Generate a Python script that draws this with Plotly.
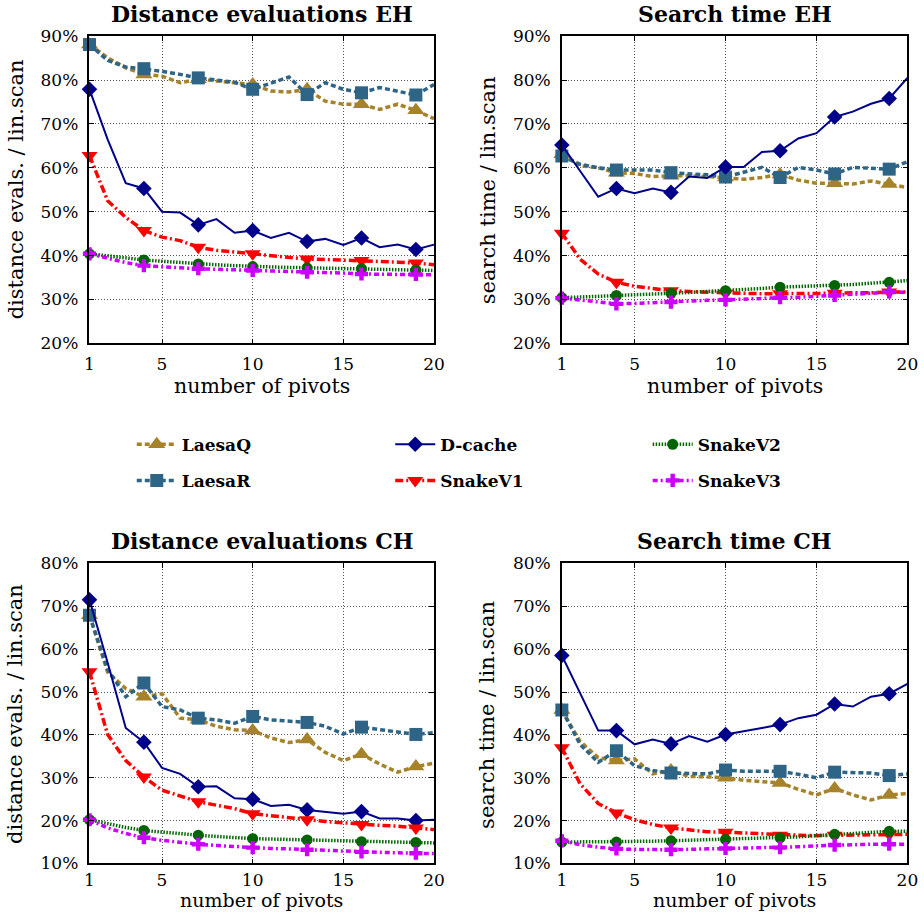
import plotly.graph_objects as go

W, H = 924, 923

pivots = list(range(1, 21))
series_names = ["LaesaQ", "LaesaR", "D-cache", "SnakeV1", "SnakeV2", "SnakeV3"]

# ---- Distance evaluations EH (%)
laesaq_eh_dist = [88.1, 85.1, 82.8, 81.3, 80.9, 79.4, 80.2, 79.9, 79.4, 79.0, 77.5, 77.3, 77.9, 75.2, 74.5, 74.5, 73.3, 74.5, 73.1, 71.2]
laesar_eh_dist = [88.1, 84.5, 83.0, 82.6, 82.0, 81.3, 80.5, 80.0, 79.5, 77.9, 79.4, 80.7, 76.7, 79.4, 77.9, 77.1, 78.3, 77.5, 76.6, 79.0]
dcache_eh_dist = [77.9, 66.5, 56.5, 55.3, 50.0, 49.8, 47.0, 48.3, 45.2, 45.7, 44.0, 45.2, 43.2, 43.8, 42.4, 44.0, 41.9, 42.5, 41.4, 42.5]
snakev1_eh_dist = [62.8, 52.5, 48.7, 45.7, 44.2, 43.4, 41.9, 41.2, 40.8, 40.4, 40.0, 39.7, 39.2, 39.1, 39.0, 38.9, 38.7, 38.5, 38.3, 37.9]
snakev2_eh_dist = [40.4, 39.9, 39.4, 39.0, 38.7, 38.4, 38.1, 37.9, 37.7, 37.5, 37.4, 37.3, 37.2, 37.1, 37.0, 37.0, 36.9, 36.8, 36.7, 36.6]
snakev3_eh_dist = [40.4, 39.3, 38.4, 37.7, 37.4, 37.2, 37.0, 36.9, 36.7, 36.6, 36.5, 36.4, 36.2, 36.1, 36.0, 35.8, 35.8, 35.7, 35.7, 35.6]

# ---- Search time EH (%)
laesaq_eh_time = [63.1, 60.5, 60.0, 58.9, 58.7, 58.0, 58.2, 58.2, 58.0, 57.8, 57.4, 57.8, 58.5, 57.2, 56.5, 56.5, 56.3, 57.0, 56.3, 55.5]
laesar_eh_time = [62.7, 60.8, 60.0, 59.5, 59.5, 59.5, 58.9, 58.7, 58.4, 57.9, 58.9, 60.1, 57.8, 60.1, 59.5, 58.6, 60.1, 59.8, 59.7, 61.4]
dcache_eh_time = [65.2, 59.3, 53.4, 55.3, 54.2, 55.3, 54.4, 58.0, 57.7, 60.2, 60.2, 63.6, 63.9, 66.7, 67.9, 71.6, 72.8, 74.6, 75.8, 80.5]
snakev1_eh_time = [45.1, 39.2, 35.8, 33.9, 33.0, 32.4, 32.0, 31.8, 31.6, 31.4, 31.4, 31.3, 31.3, 31.3, 31.3, 31.4, 31.5, 31.5, 31.7, 31.7]
snakev2_eh_time = [30.4, 30.5, 30.7, 30.9, 31.0, 31.2, 31.4, 31.6, 31.8, 32.0, 32.2, 32.5, 32.8, 32.9, 33.0, 33.2, 33.4, 33.7, 33.9, 34.3]
snakev3_eh_time = [30.3, 29.8, 29.3, 29.0, 29.1, 29.3, 29.4, 29.6, 29.8, 29.9, 30.1, 30.2, 30.4, 30.5, 30.7, 30.9, 31.1, 31.4, 31.7, 31.6]

# ---- Distance evaluations CH (%)
laesaq_ch_dist = [67.9, 54.6, 50.8, 48.9, 49.6, 43.9, 43.5, 42.0, 41.2, 41.0, 39.3, 38.2, 38.9, 35.9, 34.0, 35.5, 33.2, 31.3, 32.6, 33.4]
laesar_ch_dist = [67.9, 55.3, 48.9, 52.1, 46.6, 45.8, 43.9, 43.5, 42.7, 44.3, 43.5, 43.1, 42.9, 42.0, 40.2, 41.8, 41.2, 40.7, 40.1, 40.5]
dcache_ch_dist = [71.5, 56.9, 41.6, 38.3, 32.3, 30.9, 27.9, 28.0, 25.2, 25.0, 23.4, 23.7, 22.5, 22.1, 21.6, 22.1, 20.5, 20.5, 20.0, 20.2]
snakev1_ch_dist = [54.7, 40.1, 34.0, 30.2, 27.1, 25.7, 24.4, 23.6, 22.8, 21.6, 21.1, 20.6, 20.2, 19.8, 19.5, 19.1, 18.9, 18.7, 18.3, 17.9]
snakev2_ch_dist = [20.2, 19.2, 18.4, 17.7, 17.3, 16.9, 16.6, 16.3, 16.0, 15.8, 15.7, 15.6, 15.5, 15.4, 15.2, 15.1, 15.0, 15.0, 14.9, 14.8]
snakev3_ch_dist = [20.2, 18.3, 17.0, 16.0, 15.4, 14.9, 14.5, 14.2, 13.9, 13.7, 13.5, 13.4, 13.2, 13.0, 12.9, 12.7, 12.6, 12.5, 12.4, 12.3]

# ---- Search time CH (%)
laesaq_ch_time = [45.8, 38.5, 34.7, 34.0, 34.4, 30.9, 31.7, 30.3, 30.2, 30.0, 29.4, 29.0, 28.8, 27.3, 26.0, 27.5, 26.0, 24.8, 26.0, 26.3]
laesar_ch_time = [45.8, 37.8, 33.6, 36.3, 32.8, 31.7, 31.1, 31.1, 30.9, 31.8, 31.5, 31.5, 31.5, 30.8, 30.0, 31.3, 31.1, 31.1, 30.5, 30.9]
dcache_ch_time = [58.5, 49.6, 41.0, 41.0, 37.8, 38.9, 37.9, 39.7, 38.4, 40.1, 40.8, 41.6, 42.4, 43.9, 44.7, 47.2, 46.6, 48.9, 49.6, 51.9]
snakev1_ch_time = [37.0, 28.6, 24.0, 21.8, 20.2, 19.1, 18.3, 17.8, 17.4, 17.3, 17.1, 17.0, 16.6, 16.6, 16.5, 16.6, 16.6, 16.6, 16.8, 16.8]
snakev2_ch_time = [15.0, 15.0, 15.0, 15.0, 15.1, 15.2, 15.3, 15.4, 15.5, 15.6, 15.7, 15.9, 16.0, 16.2, 16.5, 16.8, 17.0, 17.3, 17.5, 17.5]
snakev3_ch_time = [15.3, 14.4, 13.8, 13.4, 13.3, 13.2, 13.2, 13.3, 13.4, 13.5, 13.6, 13.6, 13.7, 13.9, 14.1, 14.3, 14.4, 14.5, 14.5, 14.5]

panel_titles = ["Distance evaluations EH", "Search time EH", "Distance evaluations CH", "Search time CH"]
y_titles = ["distance evals. / lin.scan", "search time / lin.scan", "distance evals. / lin.scan", "search time / lin.scan"]
x_title = "number of pivots"
x_ticks = [1, 5, 10, 15, 20]
y_ticks_eh = [20, 30, 40, 50, 60, 70, 80, 90]
y_ticks_ch = [10, 20, 30, 40, 50, 60, 70, 80]
y_ticklabels_eh = ["20%", "30%", "40%", "50%", "60%", "70%", "80%", "90%"]
y_ticklabels_ch = ["10%", "20%", "30%", "40%", "50%", "60%", "70%", "80%"]

panel_data = [
    [laesaq_eh_dist, laesar_eh_dist, dcache_eh_dist, snakev1_eh_dist, snakev2_eh_dist, snakev3_eh_dist],
    [laesaq_eh_time, laesar_eh_time, dcache_eh_time, snakev1_eh_time, snakev2_eh_time, snakev3_eh_time],
    [laesaq_ch_dist, laesar_ch_dist, dcache_ch_dist, snakev1_ch_dist, snakev2_ch_dist, snakev3_ch_dist],
    [laesaq_ch_time, laesar_ch_time, dcache_ch_time, snakev1_ch_time, snakev2_ch_time, snakev3_ch_time],
]

# ---- styles
styles = {
    "LaesaQ": dict(color="#A6832A", dash="5px,3px", width=3.5, symbol="triangle-up", size=15, legend="legend"),
    "LaesaR": dict(color="#2E6587", dash="5px,3px", width=3.5, symbol="square", size=13, legend="legend"),
    "D-cache": dict(color="#00008B", dash="solid", width=2, symbol="diamond", size=12, legend="legend2"),
    "SnakeV1": dict(color="#FF0000", dash="8px,3px,2px,3px", width=3.5, symbol="triangle-down", size=14, legend="legend2"),
    "SnakeV2": dict(color="#006400", dash="1.5px,1.5px", width=3.5, symbol="circle", size=11, legend="legend3"),
    "SnakeV3": dict(color="#CC00FF", dash="5px,3px,2px,3px", width=3.5, symbol="cross", size=11, legend="legend3"),
}

FONT = "DejaVu Serif"

# mapping from target-picture pixels to paper fractions (calibrated)
AX, BX, AY, BY = 0.984, 4.4, 0.978, 8.8

def px_x(p):
    return ((p - BX) / AX) / W

def px_y(p):
    return 1 - ((p - BY) / AY) / H

# plot areas in target pixels (left, right, top, bottom)
areas = [(89, 434, 35, 342), (562, 908, 35, 342), (89, 434, 562, 862), (562, 908, 562, 862)]
title_y = [13, 13, 540, 540]
xtitle_y = [385, 385, 898.5, 898.5]
xtitle_size = [20.5, 20.5, 19, 19]
xtick_standoff = [5, 5, 0, 0]
ytitle_x = [15, 487.5, 15, 487.5]
ytitle_y = [188.5, 188.5, 713, 713]

fig = go.Figure()

for k in range(4):
    xa = "x" if k == 0 else f"x{k+1}"
    ya = "y" if k == 0 else f"y{k+1}"
    for name, vals in zip(series_names, panel_data[k]):
        s = styles[name]
        sizes = [s["size"] if (p - 1) % 3 == 0 else 0 for p in pivots]
        fig.add_trace(go.Scatter(
            x=pivots, y=vals, mode="lines+markers", name=name,
            legendgroup=name, showlegend=False, cliponaxis=False,
            line=dict(color=s["color"], dash=s["dash"], width=s["width"]),
            marker=dict(symbol=s["symbol"], size=sizes, color=s["color"], opacity=1,
                        line=dict(width=0)),
            xaxis=xa, yaxis=ya,
        ))

# legend entries
for name in series_names:
    s = styles[name]
    fig.add_trace(go.Scatter(
        x=[None], y=[None], mode="lines+markers", name=name, legendgroup=name,
        legend=s["legend"], showlegend=True,
        line=dict(color=s["color"], dash=s["dash"], width=s["width"]),
        marker=dict(symbol=s["symbol"], size=s["size"], color=s["color"], opacity=1,
                    line=dict(width=0)),
    ))

layout = dict(
    width=W, height=H,
    margin=dict(l=0, r=0, t=0, b=0),
    paper_bgcolor="white", plot_bgcolor="white",
    font=dict(family=FONT, size=17, color="black"),
)

axis_common = dict(
    showline=True, linecolor="black", linewidth=1.5, mirror="ticks",
    ticks="inside", ticklen=5, tickwidth=1, tickcolor="black",
    showgrid=True, gridcolor="#555", griddash="1px,2px", gridwidth=1,
    zeroline=False, tickfont=dict(family=FONT, size=17, color="black"),
)

for k, (l, r, t, b) in enumerate(areas):
    xk = "xaxis" if k == 0 else f"xaxis{k+1}"
    yk = "yaxis" if k == 0 else f"yaxis{k+1}"
    ya = "y" if k == 0 else f"y{k+1}"
    xa = "x" if k == 0 else f"x{k+1}"
    yt = y_ticks_eh if k < 2 else y_ticks_ch
    ytt = y_ticklabels_eh if k < 2 else y_ticklabels_ch
    layout[xk] = dict(axis_common, domain=[px_x(l), px_x(r)], range=[1, 20],
                      tickmode="array", tickvals=x_ticks, anchor=ya,
                      ticklabelstandoff=xtick_standoff[k])
    layout[yk] = dict(axis_common, domain=[px_y(b), px_y(t)], range=[yt[0], yt[-1]],
                      tickmode="array", tickvals=yt, ticktext=ytt, anchor=xa, ticklabelstandoff=6)

annotations = []
for k, (l, r, t, b) in enumerate(areas):
    cx = (l + r) / 2
    annotations.append(dict(text=panel_titles[k], x=px_x(cx), y=px_y(title_y[k]), xref="paper", yref="paper",
                            xanchor="center", yanchor="middle", showarrow=False,
                            font=dict(family=FONT, size=22, color="black", weight="bold")))
    annotations.append(dict(text=x_title, x=px_x(cx), y=px_y(xtitle_y[k]), xref="paper", yref="paper",
                            xanchor="center", yanchor="middle", showarrow=False,
                            font=dict(family=FONT, size=xtitle_size[k], color="black")))
    annotations.append(dict(text=y_titles[k], x=px_x(ytitle_x[k]), y=px_y(ytitle_y[k]), xref="paper", yref="paper",
                            xanchor="center", yanchor="middle", showarrow=False, textangle=-90,
                            font=dict(family=FONT, size=21, color="black")))
layout["annotations"] = annotations

leg_common = dict(orientation="v", xanchor="left", yanchor="top", y=1 - 426 / H,
                  bgcolor="rgba(0,0,0,0)", borderwidth=0, itemwidth=40,
                  tracegroupgap=11, traceorder="grouped",
                  font=dict(family=FONT, size=17, color="black", weight="bold"))
layout["legend"] = dict(leg_common, x=129 / W)
layout["legend2"] = dict(leg_common, x=392 / W)
layout["legend3"] = dict(leg_common, x=654 / W)

fig.update_layout(**layout)
fig.write_html(
    "out.html",
    config={"displayModeBar": False},
    post_script="document.body.style.margin='0px';document.body.style.overflow='hidden';",
)
